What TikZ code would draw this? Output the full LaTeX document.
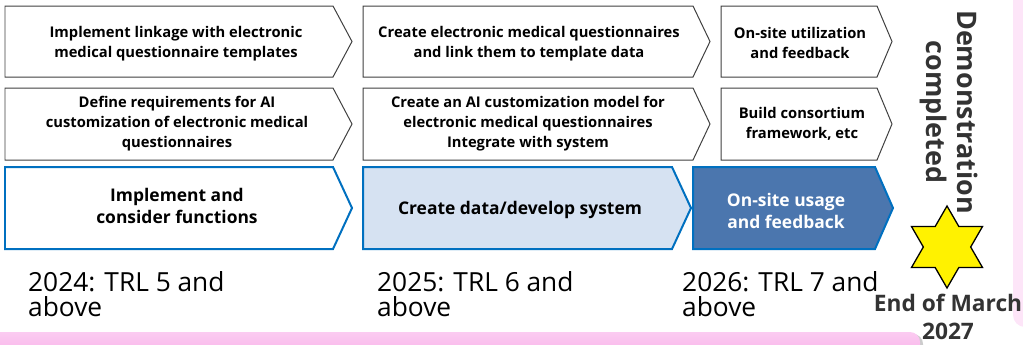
\documentclass[tikz,border=0pt]{standalone}
\usepackage{fontspec}
\setmainfont{Open Sans}
\usetikzlibrary{shapes.geometric}
\definecolor{gline}{HTML}{404040}
\definecolor{bline}{HTML}{0070C0}
\definecolor{lblue}{HTML}{D6E2F2}
\definecolor{dblue}{HTML}{4B76AE}
\definecolor{pinkband}{HTML}{F8AEE8}
\definecolor{pinktop}{HTML}{FBCBF1}
\definecolor{pinkpanel}{HTML}{FDE5F8}
\definecolor{dgray}{HTML}{333333}
\newcommand\chevpath[6]{\path[#6] (#1,#4) -- (#2,#4) -- (#3,{(#4+#5)/2}) -- (#2,#5) -- (#1,#5) -- cycle;}
\tikzset{
  plainchev/.style={draw=gline, line width=1pt, fill=white},
  bluechev/.style={draw=bline, line width=2pt, fill=white, line join=miter},
  smalltxt/.style={font=\fontsize{14.8}{20}\selectfont\bfseries, align=center, text=black, inner sep=0pt},
  bigtxt/.style={font=\fontsize{17.5}{22}\selectfont\bfseries, align=center, inner sep=0pt},
  trltxt/.style={font=\fontsize{26.4}{25.5}\selectfont, align=left, anchor=west, inner sep=0pt},
}
\begin{document}
\begin{tikzpicture}[x=1bp,y=-1bp]
\useasboundingbox (0,0) rectangle (1023,344);
% right pink panel
\fill[pinkpanel, rounded corners=12bp] (1013,-20) -- (1013,327) -- (1040,327) -- (1040,-20) -- cycle;
% bottom pink band
\fill[gray!40, rounded corners=10bp] (-10,334) -- (923,334) -- (923,360) -- (-10,360) -- cycle;
\shade[top color=pinktop, bottom color=pinkband, rounded corners=10bp] (-10,332) -- (920,332) -- (920,360) -- (-10,360) -- cycle;
% row 1
\chevpath{5}{333}{352}{6}{77}{plainchev}
\chevpath{363}{693}{710}{6}{77}{plainchev}
\chevpath{721}{877}{892}{6}{77}{plainchev}
% row 2
\chevpath{5}{333}{352}{88}{160}{plainchev}
\chevpath{363}{693}{710}{88}{160}{plainchev}
\chevpath{721}{877}{892}{88}{160}{plainchev}
% row 3
\chevpath{5}{333}{352}{167}{249}{bluechev}
\chevpath{363}{672}{691}{167}{249}{bluechev, fill=lblue}
\chevpath{693}{875}{893}{167}{249}{bluechev, fill=dblue}
% texts row 1
\node[smalltxt] (t11) at (176,43.5) {Implement linkage with electronic\\medical questionnaire templates};
\node[smalltxt] (t12) at (529,43.5) {Create electronic medical questionnaires\\and link them to template data};
\node[smalltxt] (t13) at (800,43) {On-site utilization\\and feedback};
% texts row 2
\node[smalltxt] (t21) at (177,124) {Define requirements for AI\\customization of electronic medical\\questionnaires};
\node[smalltxt] (t22) at (528,124) {Create an AI customization model for\\electronic medical questionnaires\\Integrate with system};
\node[smalltxt] (t23) at (802,124) {Build consortium\\framework, etc};
% texts row 3
\node[bigtxt] (t31) at (177,206) {Implement and\\consider functions};
\node[bigtxt] (t32) at (520,210) {Create data/develop system};
\node[bigtxt, text=white] (t33) at (786,211) {On-site usage\\and feedback};
% TRL
\node[trltxt] (y24) at (28,294) {2024: TRL 5 and\\above};
\node[trltxt] (y25) at (377,294) {2025: TRL 6 and\\above};
\node[trltxt] (y26) at (682,294) {2026: TRL 7 and\\above};
% demonstration
\node[font=\fontsize{27}{32}\selectfont\bfseries, text=dgray, align=center, rotate=-90, inner sep=0pt] (demo) at (949,112) {Demonstration\\completed};
% star
\node[star, star points=6, star point ratio=1.732, minimum size=82bp, inner sep=0pt, draw=black, line width=1.3pt, fill=yellow] (star) at (947,247) {};
\node[font=\fontsize{22.8}{28}\selectfont\bfseries, text=dgray, align=center, inner sep=0pt] (eom) at (948,317) {End of March\\2027};
\end{tikzpicture}
\end{document}
